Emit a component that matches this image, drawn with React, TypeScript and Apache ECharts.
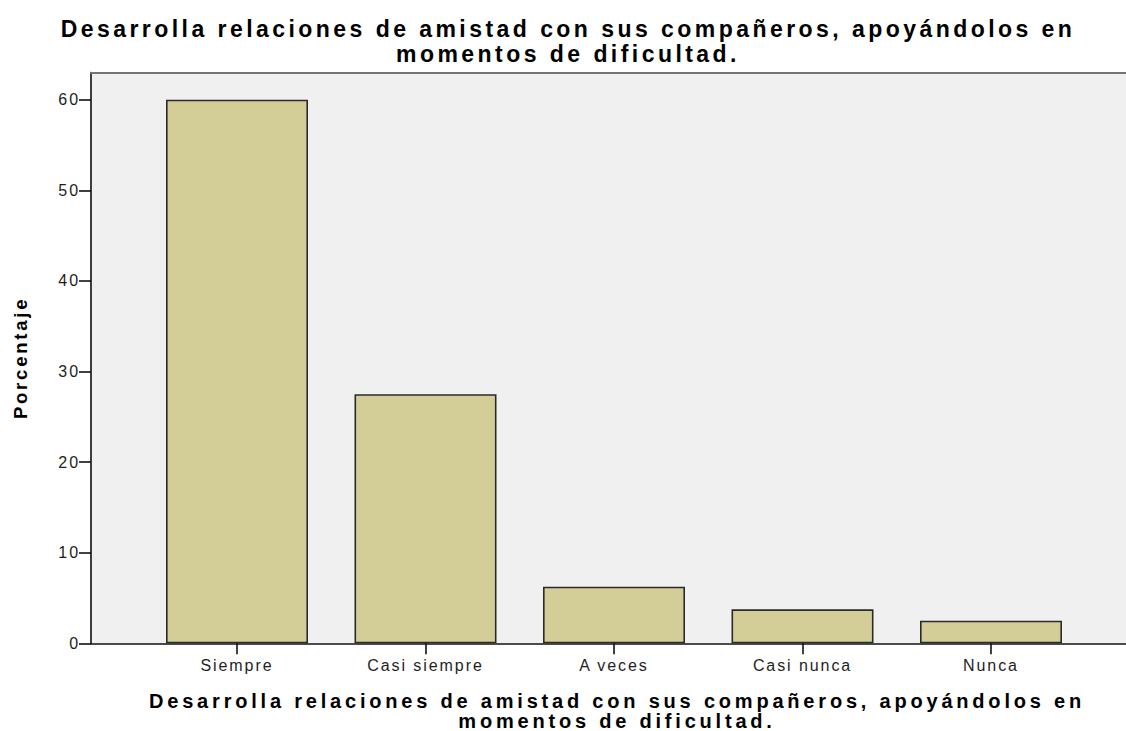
import React, { useEffect, useRef } from "react";
import * as echarts from "echarts";

const categories = ["Siempre", "Casi siempre", "A veces", "Casi nunca", "Nunca"];
const percentages = [60, 27.5, 6.25, 3.75, 2.5];
const titleLines = [
  "Desarrolla relaciones de amistad con sus compañeros, apoyándolos en",
  "momentos de dificultad.",
];
const xTitleLines = [
  "Desarrolla relaciones de amistad con sus compañeros, apoyándolos en",
  "momentos de dificultad.",
];
const yTitle = "Porcentaje";
const yMin = 0;
const yMax = 63;
const yInterval = 10;

const FONT = "'Liberation Sans', Arial, Helvetica, sans-serif";

export default function App() {
  const ref = useRef<HTMLDivElement>(null);

  useEffect(() => {
    if (!ref.current) return;
    const chart = echarts.init(ref.current, undefined, { renderer: "svg" });
    const axisLineStyle = { color: "#111111", width: 1.6 };
    const option: any = {
      animation: false,
      backgroundColor: "#ffffff",
      grid: [
        { left: 91, right: 0, top: 72.5, bottom: 87.7, show: true, backgroundColor: "#f0f0f0", borderWidth: 0 },
        { left: 142.75, right: 40.75, top: 72.5, bottom: 87.7 },
      ],
      xAxis: [
        {
          gridIndex: 0, type: "value", min: 0, max: 1, position: "bottom",
          axisLine: { show: true, onZero: false, lineStyle: axisLineStyle },
          axisTick: { show: false }, axisLabel: { show: false }, splitLine: { show: false },
        },
        {
          gridIndex: 0, type: "value", min: 0, max: 1, position: "top",
          axisLine: { show: true, onZero: false, lineStyle: { color: "#747474", width: 2.2 } },
          axisTick: { show: false }, axisLabel: { show: false }, splitLine: { show: false },
        },
        {
          gridIndex: 1, type: "category", data: categories, position: "bottom",
          axisLine: { show: false, onZero: false },
          axisTick: { show: true, alignWithLabel: true, length: 11, lineStyle: axisLineStyle },
          axisLabel: { interval: 0, margin: 14, fontSize: 16, color: "#1e1e1e", fontFamily: FONT },
          splitLine: { show: false },
        },
      ],
      yAxis: [
        {
          gridIndex: 0, type: "value", min: yMin, max: yMax, interval: yInterval,
          name: yTitle, nameLocation: "middle", nameGap: 61, nameRotate: 90,
          nameTextStyle: { fontSize: 18.5, fontWeight: "bold", color: "#000000", fontFamily: FONT },
          axisLine: { show: true, onZero: false, lineStyle: axisLineStyle },
          axisTick: { show: true, length: 12, lineStyle: axisLineStyle },
          axisLabel: { margin: 11, fontSize: 16, color: "#1e1e1e", fontFamily: FONT, showMaxLabel: false },
          splitLine: { show: false },
        },
        {
          gridIndex: 1, type: "value", min: yMin, max: yMax, interval: yInterval, show: false,
          splitLine: { show: false },
        },
      ],
      series: [
        {
          type: "bar", xAxisIndex: 2, yAxisIndex: 1, data: percentages, barWidth: 142,
          itemStyle: { color: "#d3ce98", borderColor: "#2a2a2a", borderWidth: 1.6 },
        },
      ],
      graphic: [
        {
          type: "text", x: 568, y: 41.75,
          style: {
            text: titleLines.join("\n"), fontSize: 23, fontWeight: "bold", fontFamily: FONT,
            lineHeight: 25, fill: "#000", align: "center", verticalAlign: "middle",
          },
        },
        {
          type: "text", x: 617, y: 710.85,
          style: {
            text: xTitleLines.join("\n"), fontSize: 20, fontWeight: "bold", fontFamily: FONT,
            lineHeight: 20.5, fill: "#000", align: "center", verticalAlign: "middle",
          },
        },
      ],
    };
    chart.setOption(option);
    return () => chart.dispose();
  }, []);

  return (
    <>
      <style>{`#chart-root text{letter-spacing:0.12em;} #chart-root text[style*="bold"]{letter-spacing:0.15em;} #chart-root text[style*="20px"]{letter-spacing:0.19em;}`}</style>
      <div
        id="chart-root"
        ref={ref}
        style={{ position: "absolute", left: 0, top: 0, width: 1126, height: 731, background: "#ffffff" }}
      />
    </>
  );
}
